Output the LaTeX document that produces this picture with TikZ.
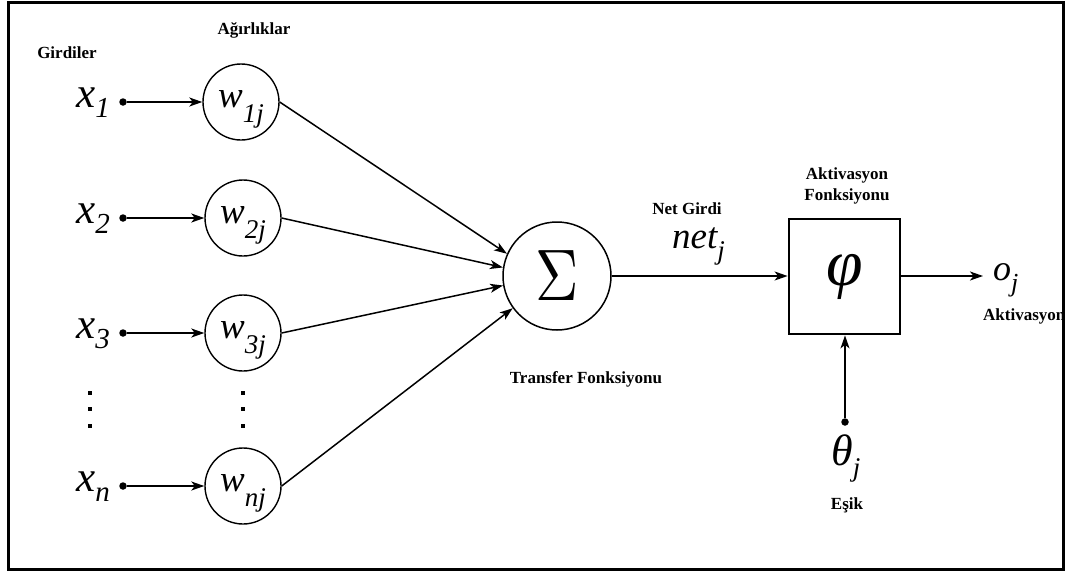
\documentclass[tikz,border=0pt]{standalone}
\usepackage{fontspec}
\setmainfont{Liberation Serif}
\usepackage{graphicx}
\usetikzlibrary{arrows.meta}
\newcommand\xlab[1]{\fontsize{43}{43}\selectfont\itshape x\raisebox{-10pt}{\fontsize{29}{29}\selectfont #1}}
\newcommand\wlab[1]{\fontsize{37}{37}\selectfont\itshape w\raisebox{-15pt}{\fontsize{27}{27}\selectfont #1}}
\tikzset{
  lbl/.style={inner sep=0pt, font=\fontsize{17}{21.5}\selectfont\bfseries},
  mlab/.style={inner sep=0pt, anchor=base west},
  wnode/.style={draw, circle, line width=1.4pt, minimum size=76pt, inner sep=0pt, text height=16pt, text depth=6pt},
  indot/.style={circle, fill, inner sep=0pt, minimum size=7.5pt},
  conn/.style={line width=1.5pt, -{Stealth[length=13pt,width=9pt,inset=3.5pt]}},
}
\begin{document}
\begin{tikzpicture}[x=1pt,y=-1pt]
\useasboundingbox (0,0) rectangle (1070,574);
% labels
\node[lbl] (girdiler) at (67,53) {Girdiler};
\node[lbl] (agirliklar) at (254,30) {Ağırlıklar};
\node[lbl] (netgirdi) at (687,209) {Net Girdi};
\node[lbl] (transfer) at (586,379) {Transfer Fonksiyonu};
\node[lbl, align=center] (aktfonk) at (847,186) {Aktivasyon\\Fonksiyonu};
\node[lbl, anchor=west] (aktiv) at (983,316) {Aktivasyon};
\node[lbl] (esik) at (847,505) {Eşik};
% inputs
\node[mlab] (x1) at (76,107) {\xlab{1}};
\node[mlab] (x2) at (76,223) {\xlab{2}};
\node[mlab] (x3) at (76,338) {\xlab{3}};
\node[mlab] (xn) at (76,491) {\xlab{n}};
\node[indot] (d1) at (123,102) {};
\node[indot] (d2) at (123,218) {};
\node[indot] (d3) at (123,333) {};
\node[indot] (dn) at (123,486) {};
% weights
\node[wnode] (w1) at (241,102) {\wlab{1j}};
\node[wnode] (w2) at (243,218) {\wlab{2j}};
\node[wnode] (w3) at (243,333) {\wlab{3j}};
\node[wnode] (wn) at (243,486) {\wlab{nj}};
% vertical dots
\foreach \xx in {90,243} {
  \foreach \yy in {393,409,426} {
    \fill (\xx-2.3,\yy-2.3) rectangle (\xx+2.3,\yy+2.3);
  }
}
% sum
\node[draw, circle, line width=1.5pt, minimum size=108pt, inner sep=0pt] (sig) at (557,276) {\scalebox{6}[7.3]{$\Sigma$}};
% activation box
\node[draw, line width=2.8pt, minimum width=111pt, minimum height=115pt, inner sep=0pt] (phi) at (844.5,276.5) {\fontsize{66}{66}\selectfont\itshape φ};
\node[mlab] (net) at (672,248) {\fontsize{37}{37}\selectfont\itshape net\raisebox{-11pt}{\fontsize{27}{27}\selectfont j}};
\node[mlab] (oj) at (993,280) {\fontsize{36}{36}\selectfont\itshape o\raisebox{-11pt}{\fontsize{26}{26}\selectfont j}};
\coordinate (oin) at (983,276);
\node[indot] (thdot) at (845,422) {};
\node[mlab] (theta) at (831,465) {\fontsize{44}{44}\selectfont\itshape θ\raisebox{-11pt}{\fontsize{27}{27}\selectfont j}};
% connectors
\draw[conn] (d1) -- (w1);
\draw[conn] (d2) -- (w2);
\draw[conn] (d3) -- (w3);
\draw[conn] (dn) -- (wn);
\draw[conn] (w1.east) -- (sig.156);
\draw[conn] (w2.east) -- (sig.171);
\draw[conn] (w3.east) -- (sig.190);
\draw[conn] (wn.east) -- (sig.216);
\draw[conn] (sig.east) -- (sig.east -| phi.west);
\draw[conn] (phi.east |- oin) -- (oin);
\draw[conn] (thdot) -- (thdot |- phi.south);
% frame
\draw[line width=3pt] (8.5,2.5) rectangle (1063.5,569.5);
\end{tikzpicture}
\end{document}
